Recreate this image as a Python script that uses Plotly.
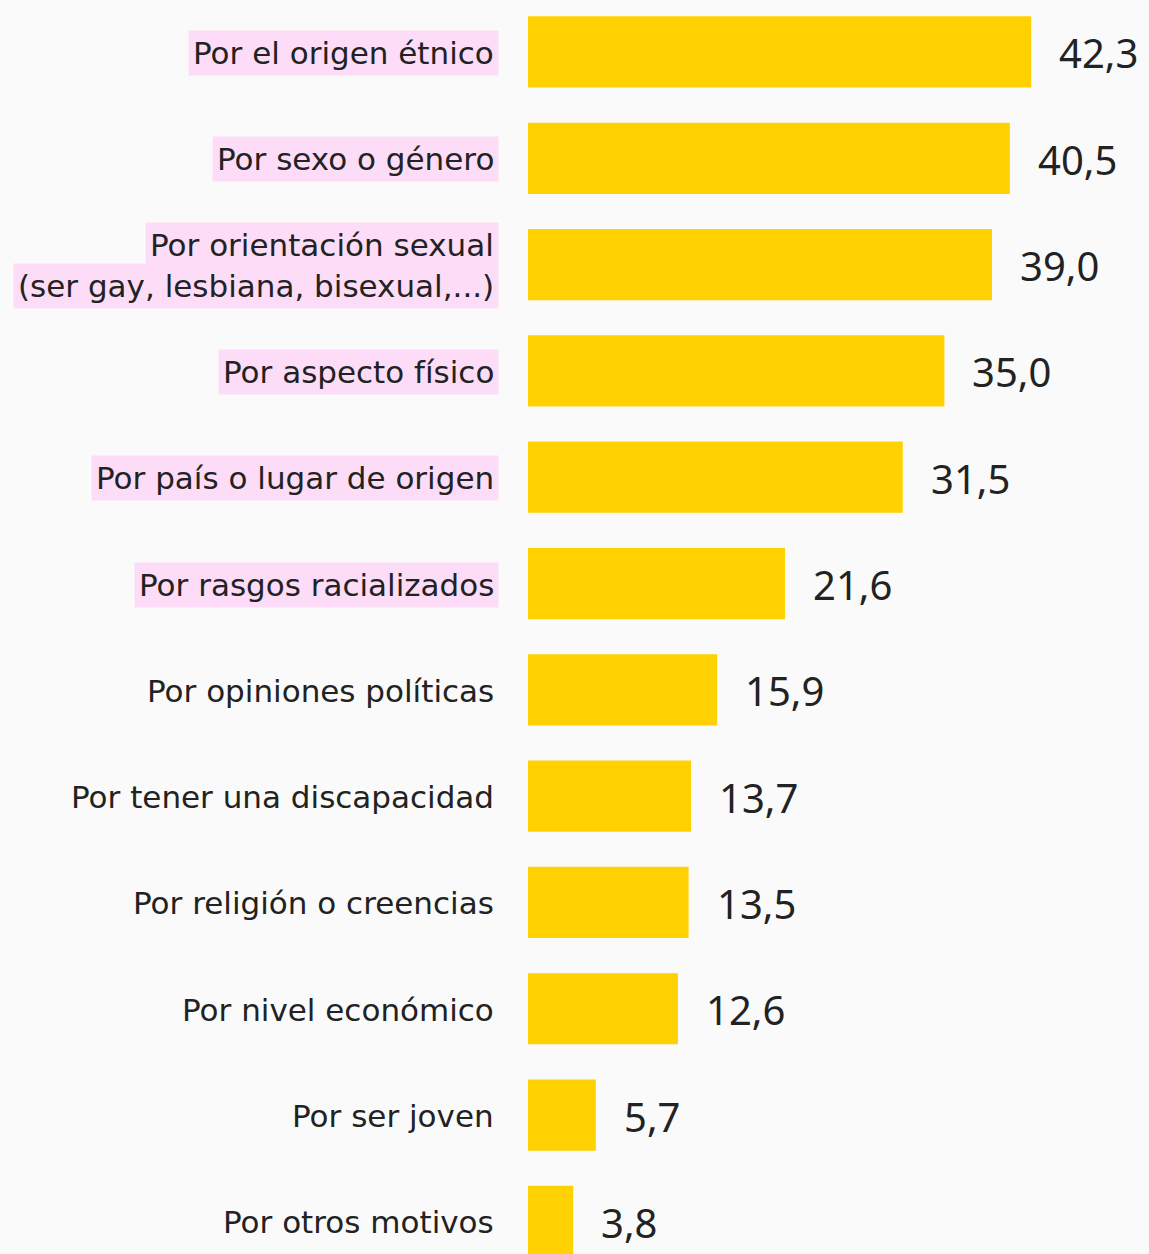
import plotly.graph_objects as go

categories = [
    "Por el origen étnico",
    "Por sexo o género",
    "Por orientación sexual<br>(ser gay, lesbiana, bisexual,...)",
    "Por aspecto físico",
    "Por país o lugar de origen",
    "Por rasgos racializados",
    "Por opiniones políticas",
    "Por tener una discapacidad",
    "Por religión o creencias",
    "Por nivel económico",
    "Por ser joven",
    "Por otros motivos",
]
values = [42.3, 40.5, 39.0, 35.0, 31.5, 21.6, 15.9, 13.7, 13.5, 12.6, 5.7, 3.8]
value_labels = ["42,3", "40,5", "39,0", "35,0", "31,5", "21,6", "15,9", "13,7", "13,5", "12,6", "5,7", "3,8"]
highlighted = [True, True, True, True, True, True, False, False, False, False, False, False]

BAR_COLOR = "#FFD100"
PINK = "#FDDCF8"
TEXT = "#222222"
BG = "#FAFAFA"
LABEL_FONT = "DejaVu Sans"
VALUE_FONT = "Noto Sans"

fig = go.Figure()
fig.add_trace(go.Bar(
    x=values,
    y=categories,
    orientation="h",
    marker=dict(color=BAR_COLOR, line=dict(width=0)),
    hoverinfo="skip",
))

annotations = []
for cat, val, lab, hl in zip(categories, values, value_labels, highlighted):
    lines = cat.split("<br>")
    n = len(lines)
    for k, line in enumerate(lines):
        shift = (n - 1) / 2 * 41 - k * 41
        annotations.append(dict(
            x=0, xref="paper", y=cat, yref="y",
            xanchor="right", yanchor="middle",
            xshift=-29, yshift=shift - 1,
            text=line, showarrow=False,
            font=dict(family=LABEL_FONT, size=31, color=TEXT),
            bgcolor=PINK if hl else "rgba(0,0,0,0)",
            borderpad=4,
        ))
    annotations.append(dict(
        x=val, xref="x", y=cat, yref="y",
        xanchor="left", yanchor="middle",
        xshift=26, yshift=-1,
        text=lab, showarrow=False,
        font=dict(family=VALUE_FONT, size=40, color=TEXT),
    ))

fig.update_layout(
    width=1149, height=1254,
    margin=dict(l=528, r=0, t=0, b=0),
    paper_bgcolor=BG, plot_bgcolor=BG,
    bargap=0.33,
    showlegend=False,
    annotations=annotations,
    xaxis=dict(range=[0, 52.2], visible=False, fixedrange=True),
    yaxis=dict(type="category", categoryorder="array", categoryarray=categories,
               range=[11.307, -0.489], showticklabels=False, showgrid=False,
               zeroline=False, fixedrange=True),
)

fig.write_html("out.html", config={"displayModeBar": False},
               post_script="document.body.style.margin='0';document.body.style.overflow='hidden';")
